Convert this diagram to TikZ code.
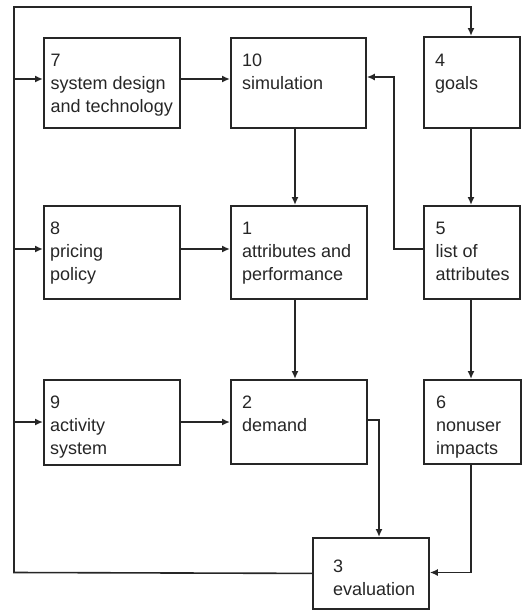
\documentclass[tikz,border=0pt]{standalone}
\usepackage{fontspec}
\setmainfont{Liberation Sans}
\usetikzlibrary{arrows.meta}
\begin{document}
\begin{tikzpicture}[x=1pt,y=-1pt,
  box/.style={draw=black!85, line width=1.8pt, rectangle, inner sep=0pt, anchor=north west},
  lbl/.style={anchor=north west, inner sep=0pt, align=left, text=black!85, font=\fontsize{18}{23}\selectfont},
  arr/.style={draw=black!85, line width=1.6pt, -{Latex[length=8pt,width=7pt]}},
  ln/.style={draw=black!85, line width=1.6pt}]
\useasboundingbox (0,0) rectangle (528,611);
% boxes
\node[box, minimum width=136pt, minimum height=90pt] (b7) at (43,37) {};
\node[box, minimum width=135pt, minimum height=90pt] (b10) at (230,37) {};
\node[box, minimum width=96pt, minimum height=91pt] (b4) at (423,36) {};
\node[box, minimum width=136pt, minimum height=93pt] (b8) at (43,205) {};
\node[box, minimum width=136pt, minimum height=93pt] (b1) at (230,205) {};
\node[box, minimum width=96pt, minimum height=93pt] (b5) at (423,205) {};
\node[box, minimum width=136pt, minimum height=85pt] (b9) at (43,379) {};
\node[box, minimum width=136pt, minimum height=84pt] (b2) at (230,379) {};
\node[box, minimum width=97pt, minimum height=84pt] (b6) at (423,379) {};
\node[box, minimum width=116pt, minimum height=71pt] (b3) at (312,537) {};
% labels
\node[lbl] (t7) at ([xshift=7.5pt,yshift=-17pt]b7.north west) {7\\system design\\and technology};
\node[lbl] (t10) at ([xshift=12pt,yshift=-17pt]b10.north west) {10\\simulation};
\node[lbl] (t4) at ([xshift=12pt,yshift=-18pt]b4.north west) {4\\goals};
\node[lbl] (t8) at ([xshift=7pt,yshift=-17pt]b8.north west) {8\\pricing\\policy};
\node[lbl] (t1) at ([xshift=12pt,yshift=-17pt]b1.north west) {1\\attributes and\\performance};
\node[lbl] (t5) at ([xshift=12.5pt,yshift=-17pt]b5.north west) {5\\list of\\attributes};
\node[lbl] (t9) at ([xshift=7pt,yshift=-17pt]b9.north west) {9\\activity\\system};
\node[lbl] (t2) at ([xshift=12pt,yshift=-17pt]b2.north west) {2\\demand};
\node[lbl] (t6) at ([xshift=13pt,yshift=-17pt]b6.north west) {6\\nonuser\\impacts};
\node[lbl] (t3) at ([xshift=21pt,yshift=-23pt]b3.north west) {3\\evaluation};
% coordinates
\coordinate (lbot) at (14,572.5);
\coordinate (ltop) at (14,7);
\coordinate (rtop) at (471,7);
\coordinate (j7) at (14,79);
\coordinate (j8) at (14,249);
\coordinate (j9) at (14,422);
\coordinate (x2) at (295,0);
\coordinate (k1) at (394,249);
\coordinate (k2) at (394,77);
\coordinate (m1) at (379,420);
\coordinate (n1) at (471,572.5);
% feedback loop
\draw[arr] (b3.west) -- (lbot) -- (ltop) -- (rtop) -- (rtop |- b4.north);
\draw[arr] (j7) -- (j7 -| b7.west);
\draw[arr] (j8) -- (j8 -| b8.west);
\draw[arr] (j9) -- (j9 -| b9.west);
% horizontal flows
\draw[arr] (j7 -| b7.east) -- (j7 -| b10.west);
\draw[arr] (j8 -| b8.east) -- (j8 -| b1.west);
\draw[arr] (j9 -| b9.east) -- (j9 -| b2.west);
% vertical flows
\draw[arr] (x2 |- b10.south) -- (x2 |- b1.north);
\draw[arr] (x2 |- b1.south) -- (x2 |- b2.north);
\draw[arr] (rtop |- b4.south) -- (rtop |- b5.north);
\draw[arr] (rtop |- b5.south) -- (rtop |- b6.north);
% 5 -> 10
\draw[arr] (k1 -| b5.west) -- (k1) -- (k2) -- (k2 -| b10.east);
% 2 -> 3
\draw[arr] (m1 -| b2.east) -- (m1) -- (m1 |- b3.north);
% 6 -> 3
\draw[arr] (n1 |- b6.south) -- (n1) -- (n1 -| b3.east);
\end{tikzpicture}
\end{document}
